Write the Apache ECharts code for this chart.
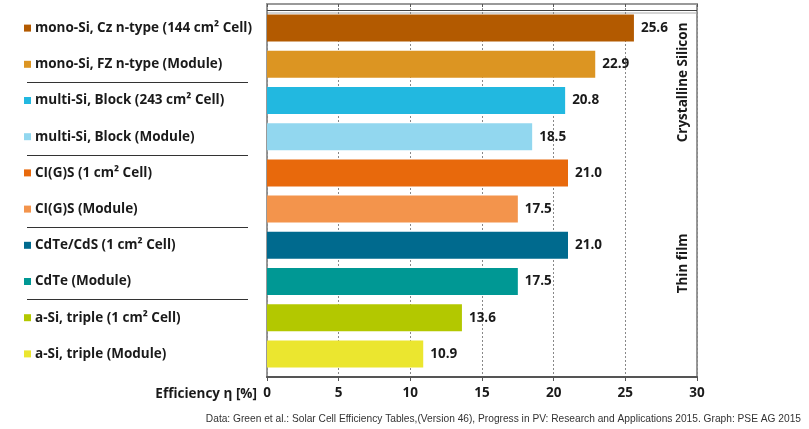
<!DOCTYPE html>
<html><head><meta charset="utf-8">
<script src="https://cdn.jsdelivr.net/npm/echarts@6/dist/echarts.min.js"></script>
<style>html,body{margin:0;padding:0;background:#fff}#c{width:809px;height:429px}</style>
</head><body><div id="c"></div>
<script>
const categories = [
  'mono-Si, Cz n-type (144 cm² Cell)',
  'mono-Si, FZ n-type (Module)',
  'multi-Si, Block (243 cm² Cell)',
  'multi-Si, Block (Module)',
  'CI(G)S (1 cm² Cell)',
  'CI(G)S (Module)',
  'CdTe/CdS (1 cm² Cell)',
  'CdTe (Module)',
  'a-Si, triple (1 cm² Cell)',
  'a-Si, triple (Module)'
];
const efficiency = [25.6, 22.9, 20.8, 18.5, 21.0, 17.5, 21.0, 17.5, 13.6, 10.9];
const barColors = ['#B35A00', '#DC9522', '#22B8E0', '#92D7EF', '#E8690C', '#F3944C', '#006A8E', '#009894', '#B3C800', '#EBE62F'];
const groupNames = ['Crystalline Silicon', 'Thin film'];
const groupCenters = [2, 7];          // center of each group, in category units
const groupSeparators = [4];          // separator lines in plot (boundary index)
const labelSeparators = [2, 4, 6, 8]; // separator lines in label column
const xTicks = [0, 5, 10, 15, 20, 25, 30];
const footer = 'Data: Green et al.: Solar Cell Efficiency Tables,(Version 46), Progress in PV: Research and Applications 2015. Graph: PSE AG 2015';

const FONT = 'Open Sans';
const FS = 13.5;
const TXT = '#1a1a1a';
const rich = { t: { fontFamily: FONT, fontWeight: 'bold', fontSize: FS, color: TXT, padding: [0, 0, 0, 4] } };
barColors.forEach((c, i) => { rich['s' + i] = { width: 7, height: 7, backgroundColor: c }; });

// colours for the drawn split lines (the axis also draws a closing boundary line, kept invisible)
const sepColors = (n, c) => Array.from({ length: n }, () => c).concat(['rgba(0,0,0,0)']);

const chart = echarts.init(document.getElementById('c'));
chart.setOption({
  animation: false,
  title: {
    text: footer, right: 3, top: 409,
    textStyle: { fontFamily: 'Liberation Sans', fontWeight: 'normal', fontSize: 10.2, color: '#333' }
  },
  grid: [
    { left: 267, right: 112, top: 4, bottom: 52, show: true, borderColor: '#999', borderWidth: 2 },
    { left: 267, right: 112, top: 10, bottom: 57 },
    { left: 27, width: 221, top: 10, bottom: 57 }
  ],
  xAxis: [
    {
      gridIndex: 0, type: 'value', min: xTicks[0], max: xTicks[xTicks.length - 1], interval: 5,
      name: 'Efficiency η [%]', nameLocation: 'start', nameGap: 10,
      nameTextStyle: { fontFamily: FONT, fontWeight: 'bold', fontSize: FS, color: TXT, verticalAlign: 'top', lineHeight: 34 },
      axisLine: { show: true, lineStyle: { color: '#555', width: 2 } },
      axisTick: { show: true, length: 4, lineStyle: { color: '#555' } },
      axisLabel: { margin: 9, fontFamily: FONT, fontWeight: 'bold', fontSize: FS, color: TXT },
      splitLine: { show: true, lineStyle: { color: '#888', type: [2, 2], width: 1 } }
    },
    {
      gridIndex: 0, type: 'value', position: 'top', min: 0, max: 30, interval: 5,
      axisLine: { show: false }, axisLabel: { show: false }, splitLine: { show: false },
      axisTick: { show: true, inside: true, length: 3, lineStyle: { color: '#555' } }
    },
    { gridIndex: 1, type: 'value', min: 0, max: 30, show: false },
    { gridIndex: 2, type: 'value', min: 0, max: 1, show: false }
  ],
  yAxis: [
    { gridIndex: 0, type: 'value', min: 0, max: 1, show: false },
    {
      gridIndex: 1, type: 'category', data: categories, inverse: true,
      axisLine: { show: false }, axisTick: { show: false },
      axisLabel: {
        align: 'left', margin: 243, rich: rich,
        formatter: (v, i) => '{s' + i + '|}{t|' + v + '}'
      },
      splitLine: {
        show: true, interval: (i) => groupSeparators.includes(i),
        lineStyle: { color: sepColors(groupSeparators.length, '#444'), width: 1, shadowColor: '#aaa', shadowOffsetY: 2.5, shadowBlur: 0 }
      }
    },
    {
      gridIndex: 1, type: 'value', position: 'right', inverse: true, min: 0, max: categories.length, interval: 1,
      axisLine: { show: false }, axisTick: { show: false }, splitLine: { show: false },
      axisLabel: {
        inside: true, rotate: 90, margin: 7, fontFamily: FONT, fontWeight: 'bold', fontSize: FS, color: TXT,
        formatter: (v) => { const k = groupCenters.indexOf(v); return k >= 0 ? groupNames[k] : ''; }
      }
    },
    {
      gridIndex: 2, type: 'category', data: categories, inverse: true,
      axisLine: { show: false }, axisTick: { show: false }, axisLabel: { show: false },
      splitLine: { show: true, interval: (i) => labelSeparators.includes(i), lineStyle: { color: sepColors(labelSeparators.length, '#333'), width: 1 } }
    }
  ],
  series: [{
    type: 'bar', xAxisIndex: 2, yAxisIndex: 1, barWidth: 27,
    data: efficiency.map((v, i) => ({ value: v, itemStyle: { color: barColors[i] } })),
    label: {
      show: true, position: 'right', distance: 7,
      fontFamily: FONT, fontWeight: 'bold', fontSize: FS, color: TXT,
      formatter: (p) => p.value.toFixed(1)
    }
  }]
});
</script></body></html>
